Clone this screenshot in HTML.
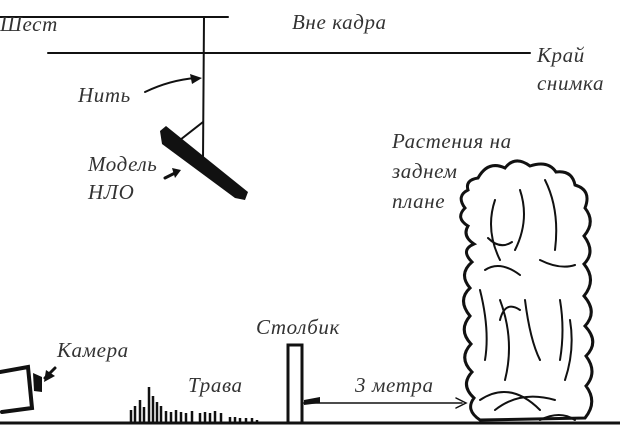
<!DOCTYPE html>
<html><head><meta charset="utf-8"><style>
html,body{margin:0;padding:0;background:#fff;width:620px;height:433px;overflow:hidden}
svg text{font-family:"Liberation Serif",serif;font-style:italic;font-size:21px;letter-spacing:0.6px;fill:#333}
</style></head><body>
<svg width="620" height="433" viewBox="0 0 620 433" xmlns="http://www.w3.org/2000/svg">
<g stroke="#111" fill="none" stroke-linecap="round">
<line x1="0" y1="17" x2="228" y2="17" stroke-width="2"/>
<line x1="48" y1="53" x2="530" y2="53" stroke-width="2"/>
<line x1="204" y1="17" x2="203" y2="160" stroke-width="2"/>
<line x1="203" y1="122" x2="180" y2="140" stroke-width="2"/>
<path d="M145 92 Q170 80 196 78" stroke-width="2"/>
<path d="M165 178 L175 173" stroke-width="3"/>
<path d="M45 378 L55 368" stroke-width="3"/>
<line x1="0" y1="423" x2="620" y2="423" stroke-width="3"/>
<path d="M0 372 L28 367 L32 408 L2 412" stroke-width="4"/>
<line x1="304" y1="403" x2="462" y2="403" stroke-width="1.5"/>
<path d="M456 398 L466 403 L456 408" stroke-width="1.5"/>
<path d="M478 178 Q488 160 505 168 Q515 155 530 166 Q548 160 556 172 Q572 170 575 185 Q592 190 585 208 Q596 222 584 236 Q596 252 584 264 Q597 280 584 296 Q598 312 585 326 Q600 342 586 356 Q598 372 586 386 Q598 402 585 418 L480 420 Q465 410 474 398 Q460 385 472 372 Q458 358 471 344 Q458 330 470 316 Q457 300 470 288 Q458 274 472 262 Q460 250 474 244 Q462 236 468 226 Q455 218 465 208 Q456 196 468 190 Q465 180 478 178 Z" stroke-width="3"/>
<path d="M495 200 Q485 230 500 260 M520 190 Q530 220 515 250 M545 180 Q560 210 555 250 M488 238 Q500 250 512 242 M480 290 Q490 330 485 360 M500 300 Q515 340 505 380 M525 300 Q530 340 540 360 M560 300 Q565 330 560 360 M480 400 Q510 380 540 410 M495 410 Q520 390 555 400 M570 320 Q575 350 565 380 M485 270 Q500 260 520 275 M540 260 Q560 270 575 265 M500 320 Q505 300 520 310 M540 420 Q560 410 575 420" stroke-width="2"/>
</g>
<polygon points="160,131 166,126 248,192 245,200 235,198 162,144" fill="#111"/>
<polygon points="190,74 202,78 192,84" fill="#111"/>
<polygon points="172,168 181,170 175,178" fill="#111"/>
<polygon points="44,382 46,370 55,376" fill="#111"/>
<polygon points="33,373 42,377 42,392 34,391" fill="#111"/>
<polygon points="304,400 320,397 320,403 304,405" fill="#111"/>
<rect x="288" y="345" width="14" height="78" fill="none" stroke="#111" stroke-width="3"/>
<g stroke="#111" stroke-width="2.5">
<line x1="131" y1="423" x2="131" y2="410"/><line x1="135" y1="423" x2="135" y2="406"/><line x1="140" y1="423" x2="140" y2="400"/><line x1="144" y1="423" x2="144" y2="407"/><line x1="149" y1="423" x2="149" y2="387"/><line x1="153" y1="423" x2="153" y2="396"/><line x1="157" y1="423" x2="157" y2="402"/><line x1="161" y1="423" x2="161" y2="406"/><line x1="166" y1="423" x2="166" y2="411"/><line x1="171" y1="423" x2="171" y2="412"/><line x1="176" y1="423" x2="176" y2="410"/><line x1="181" y1="423" x2="181" y2="412"/><line x1="186" y1="423" x2="186" y2="413"/><line x1="192" y1="423" x2="192" y2="411"/><line x1="200" y1="423" x2="200" y2="413"/><line x1="205" y1="423" x2="205" y2="412"/><line x1="210" y1="423" x2="210" y2="413"/><line x1="215" y1="423" x2="215" y2="411"/><line x1="221" y1="423" x2="221" y2="413"/><line x1="230" y1="423" x2="230" y2="417"/><line x1="235" y1="423" x2="235" y2="417"/><line x1="240" y1="423" x2="240" y2="418"/><line x1="246" y1="423" x2="246" y2="418"/><line x1="252" y1="423" x2="252" y2="418"/><line x1="257" y1="423" x2="257" y2="420"/>
</g>
<text x="0" y="31">Шест</text>
<text x="292" y="29">Вне кадра</text>
<text x="537" y="62">Край</text>
<text x="537" y="90">снимка</text>
<text x="78" y="102">Нить</text>
<text x="88" y="171">Модель</text>
<text x="88" y="199">НЛО</text>
<text x="392" y="148">Растения на</text>
<text x="392" y="178">заднем</text>
<text x="392" y="208">плане</text>
<text x="57" y="357">Камера</text>
<text x="256" y="334">Столбик</text>
<text x="188" y="392">Трава</text>
<text x="355" y="392">3 метра</text>
</svg>
</body></html>
